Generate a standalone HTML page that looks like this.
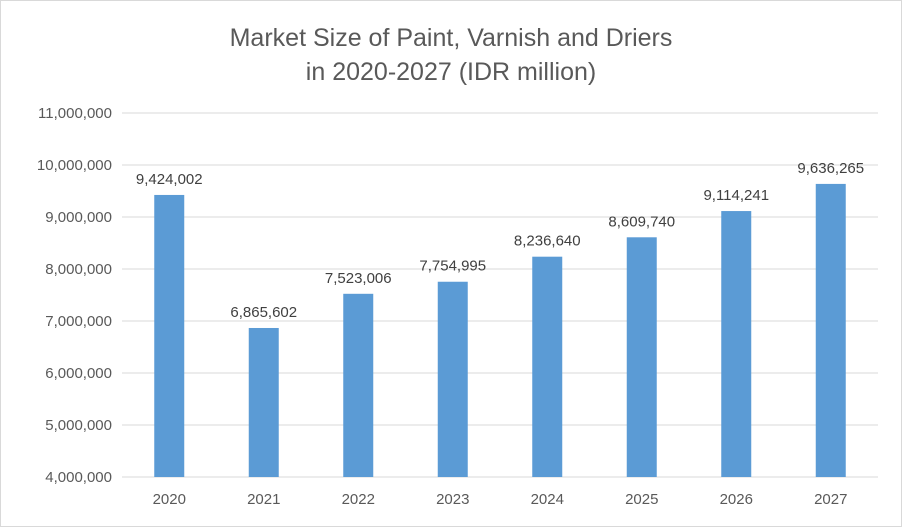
<!DOCTYPE html>
<html><head><meta charset="utf-8"><style>
body{margin:0;background:#fff;}
svg text{font-family:"Liberation Sans",Calibri,sans-serif;}
</style></head><body>
<svg id="chart" width="902" height="527" xmlns="http://www.w3.org/2000/svg">
<rect x="0.5" y="0.5" width="901" height="526" fill="#fff" stroke="#d9d9d9"/>
<text x="451" y="46" text-anchor="middle" font-size="25" fill="#595959">Market Size of Paint, Varnish and Driers</text>
<text x="451" y="80" text-anchor="middle" font-size="25" fill="#595959">in 2020-2027 (IDR million)</text>
<g id="grid"></g><g id="bars"></g><g id="labels"></g>
</svg>
<script>
const categories=["2020","2021","2022","2023","2024","2025","2026","2027"];
const values=[9424002,6865602,7523006,7754995,8236640,8609740,9114241,9636265];
const ticks=[4000000,5000000,6000000,7000000,8000000,9000000,10000000,11000000];
const yMin=4000000,yMax=11000000,yTop=113,yBot=477,xL=122,xR=878;
const ns="http://www.w3.org/2000/svg";
function y(v){return yBot-(v-yMin)/(yMax-yMin)*(yBot-yTop);}
const step=(xR-xL)/categories.length;
function x(i){return xL+step*(i+0.5);}
const fmt=v=>v.toLocaleString("en-US");
function mk(tag,attrs,parent,txt){const e=document.createElementNS(ns,tag);for(const k in attrs)e.setAttribute(k,attrs[k]);if(txt!==undefined)e.textContent=txt;document.getElementById(parent).appendChild(e);return e;}
ticks.forEach(t=>{
 const l=mk("line",{x1:xL,x2:xR,y1:y(t),y2:y(t),stroke:"#d9d9d9","stroke-width":1},"grid");
 
 
 const tx=mk("text",{x:112,y:y(t)+5,"text-anchor":"end","font-size":15,fill:"#595959"},"grid",fmt(t));
 
 
});
categories.forEach((c,i)=>{
 const b=mk("rect",{x:x(i)-15,y:y(values[i]),width:30,height:yBot-y(values[i]),fill:"#5b9bd5"},"bars");
 
 
 const v=mk("text",{x:x(i),y:y(values[i])-11,"text-anchor":"middle","font-size":15,fill:"#404040"},"labels",fmt(values[i]));
 
 
 const cl=mk("text",{x:x(i),y:504,"text-anchor":"middle","font-size":15,fill:"#595959"},"labels",c);
 
 
});
</script>
</body></html>
